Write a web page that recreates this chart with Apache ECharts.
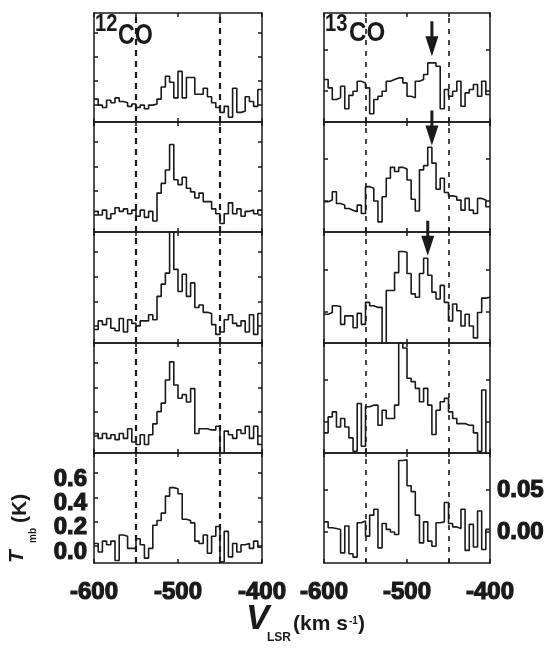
<!DOCTYPE html>
<html>
<head>
<meta charset="utf-8">
<script src="https://cdn.jsdelivr.net/npm/echarts@6/dist/echarts.min.js"></script>
<style>html,body{margin:0;padding:0;background:#fff}#c{width:560px;height:650px}</style>
</head>
<body>
<div id="c"></div>
<script>
// Channel left edges (km/s), 5 km/s channels
const velocityEdges = [-600,-595,-590,-585,-580,-575,-570,-565,-560,-555,
  -550,-545,-540,-535,-530,-525,-520,-515,-510,-505,
  -500,-495,-490,-485,-480,-475,-470,-465,-460,-455,
  -450,-445,-440,-435,-430,-425,-420,-415,-410,-405,-400];

// 12CO spectra (K), top to bottom
const co12_1 = [0.05,0.00,-0.02,0.04,0.02,0.06,0.03,0.02,-0.01,0.01,
  -0.02,0.00,-0.03,0.00,0.01,0.05,0.15,0.24,0.19,0.06,
  0.28,0.06,0.23,0.23,0.09,0.09,0.14,0.07,0.02,-0.02,
  -0.06,-0.01,-0.10,0.14,-0.06,-0.05,0.07,0.03,-0.01,0.13];
const co12_2 = [0.03,0.00,0.04,-0.03,0.01,0.06,0.03,0.05,0.01,0.04,
  -0.01,0.04,-0.02,0.03,-0.05,0.18,0.26,0.37,0.58,0.29,
  0.25,0.31,0.22,0.19,0.14,0.18,0.11,0.11,0.05,0.01,
  -0.07,0.01,0.10,0.01,0.05,-0.01,0.03,0.04,0.01,0.04];
const co12_3 = [-0.03,0.04,0.01,0.06,-0.02,-0.04,0.06,-0.05,0.05,0.02,
  0.00,0.04,0.04,0.09,0.05,0.24,0.34,0.43,0.80,0.46,
  0.28,0.42,0.24,0.35,0.15,0.17,0.11,0.10,0.01,-0.07,
  -0.05,0.05,0.09,0.02,0.00,0.04,-0.05,0.09,-0.07,0.10];
const co12_4 = [0.02,-0.02,0.02,-0.02,0.01,-0.03,0.02,-0.02,0.06,-0.05,
  -0.07,0.01,-0.07,0.01,0.10,0.20,0.27,0.46,0.61,0.42,
  0.31,0.34,0.28,0.39,0.02,0.06,0.06,0.05,0.05,0.08,
  -0.16,0.04,0.01,-0.02,0.05,0.02,0.08,-0.02,0.08,-0.07];
const co12_5 = [0.02,-0.05,0.04,0.01,0.04,-0.12,0.09,0.08,-0.02,-0.02,
  0.06,0.01,-0.10,-0.02,0.17,0.21,0.27,0.41,0.48,0.47,
  0.43,0.22,0.21,0.19,0.04,0.02,0.09,-0.06,0.08,0.16,
  -0.13,0.12,-0.09,0.02,-0.05,0.01,0.02,-0.02,0.04,-0.01];

// 13CO spectra (K), top to bottom
const co13_1 = [0.014,0.004,-0.010,-0.008,0.006,-0.021,-0.005,0.000,0.012,0.010,
  0.004,-0.027,-0.010,-0.006,0.000,0.012,0.014,0.016,0.016,0.010,
  -0.006,-0.008,0.012,0.014,0.020,0.034,0.034,0.030,-0.021,0.002,
  -0.006,0.000,0.012,-0.018,-0.002,0.002,0.008,-0.006,0.012,-0.004];
const co13_2 = [-0.001,0.001,0.011,-0.003,-0.005,-0.009,-0.011,-0.013,-0.005,-0.015,
  0.017,0.015,0.000,-0.025,0.005,0.027,0.040,0.035,0.040,0.038,
  0.025,0.002,-0.012,0.037,0.042,0.064,0.045,0.014,0.027,0.010,
  0.006,0.005,0.001,-0.011,0.003,-0.011,-0.015,0.003,0.001,-0.007];
const co13_3 = [-0.003,-0.001,0.007,0.006,-0.015,-0.005,-0.005,-0.019,-0.002,-0.015,
  0.011,0.007,0.005,0.005,-0.040,0.025,0.025,0.046,0.071,0.070,
  0.045,0.021,0.017,0.045,0.063,0.043,0.023,0.015,0.031,0.011,
  -0.011,0.009,0.001,-0.017,-0.003,-0.017,-0.031,-0.001,0.016,0.017];
const co13_4 = [-0.013,0.006,0.012,-0.006,0.004,-0.006,-0.019,-0.035,0.022,-0.029,
  0.018,0.020,0.020,-0.004,0.014,0.004,0.004,0.020,0.095,0.088,
  0.052,0.048,0.040,0.024,0.040,0.020,-0.015,0.014,0.024,0.028,
  0.012,0.004,-0.002,-0.002,-0.004,-0.004,-0.013,-0.035,0.038,-0.040];
const co13_5 = [0.012,0.005,0.004,0.003,-0.025,0.007,-0.026,-0.030,0.011,0.013,
  -0.005,0.020,0.027,-0.019,0.010,0.003,0.000,-0.003,0.085,0.086,
  0.055,0.048,0.020,-0.013,0.012,-0.011,-0.017,0.011,0.012,0.035,
  0.010,0.006,0.004,0.027,-0.022,0.009,-0.018,0.025,-0.021,0.003];

const dashedVel = [-550, -450];
const leftTicks = [0, 0.2, 0.4, 0.6];
const rightTicks = [0, 0.05];
const leftRange = [-0.14, 0.765];
const rightRange = [-0.037, 0.094];
const arrowVel = [-470, -470, -475];   // 13CO panels 1-3
const arrowTip = [0.042, 0.066, 0.066];

const INK = '#1a1a1a';
const FONT = '"Liberation Sans", Arial, Helvetica, sans-serif';
const panels12 = [co12_1, co12_2, co12_3, co12_4, co12_5];
const panels13 = [co13_1, co13_2, co13_3, co13_4, co13_5];
const rowTops = [13, 122, 232, 343, 453];
const rowBottom = 563;
const colLeft = [94, 324];
const colWidth = [168, 166];

const chart = echarts.init(document.getElementById('c'), null, {renderer: 'canvas'});

const grids = [], xAxes = [], yAxes = [], series = [];
const labelBase = {fontSize: 24, fontWeight: 'bold', color: INK, fontFamily: FONT,
  textBorderColor: INK, textBorderWidth: 1.2};

for (let col = 0; col < 2; col++) {
  for (let row = 0; row < 5; row++) {
    const g = col * 5 + row;
    const top = rowTops[row];
    const bottom = row < 4 ? rowTops[row + 1] : rowBottom;
    grids.push({left: colLeft[col], top: top, width: colWidth[col], height: bottom - top, show: false});
    const isBottom = row === 4;
    ['bottom', 'top'].forEach(pos => {
      xAxes.push({
        type: 'value', gridIndex: g, position: pos, min: -600, max: -400, interval: 50,
        axisLine: {show: true, onZero: false, lineStyle: {color: INK, width: 1.5}},
        axisTick: {show: true, inside: true, length: 4, lineStyle: {color: INK, width: 1.5}},
        axisLabel: Object.assign({}, labelBase, {
          show: isBottom && pos === 'bottom', margin: 17, showMinLabel: true, showMaxLabel: true,
          formatter: v => (Math.round(v) % 100 === 0 ? String(Math.round(v)) : '')
        }),
        splitLine: {show: false}
      });
    });
    const rng = col === 0 ? leftRange : rightRange;
    const ticks = col === 0 ? leftTicks : rightTicks;
    ['left', 'right'].forEach(pos => {
      const showLab = isBottom && col === 1 && pos === 'right';
      yAxes.push({
        type: 'value', gridIndex: g, position: pos, min: rng[0], max: rng[1],
        axisLine: {show: true, onZero: false, lineStyle: {color: INK, width: 1.5}},
        axisTick: {show: true, inside: true, length: 4, customValues: ticks, lineStyle: {color: INK, width: 1.5}},
        axisLabel: Object.assign({}, labelBase, {
          show: showLab, customValues: ticks, margin: 7,
          showMinLabel: true, showMaxLabel: true,
          formatter: v => Number(v).toFixed(2)
        }),
        splitLine: {show: false}
      });
    });
    const vals = col === 0 ? panels12[row] : panels13[row];
    series.push({
      type: 'line', xAxisIndex: 2 * g, yAxisIndex: 2 * g,
      data: velocityEdges.map((v, i) => [v, vals[Math.min(i, vals.length - 1)]]),
      step: 'end', symbol: 'none', clip: true, z: 3,
      lineStyle: {color: INK, width: 1.6},
      markLine: {
        silent: true, symbol: ['none', 'none'], animation: false,
        label: {show: false},
        lineStyle: {color: INK, type: col === 0 ? [6, 5] : [5, 6], width: col === 0 ? 2.2 : 1.6},
        data: dashedVel.map(v => ({xAxis: v}))
      }
    });
  }
}

chart.setOption({
  animation: false,
  backgroundColor: '#ffffff',
  grid: grids, xAxis: xAxes, yAxis: yAxes, series: series
});

// Text and arrows
const graphics = [];
function txt(x, y, text, size, weight, italic, extra, styleExtra) {
  return Object.assign({type: 'text', x: x, y: y, z: 100,
    style: Object.assign({text: text, fontSize: size, fontWeight: weight, fontStyle: italic ? 'italic' : 'normal',
      fontFamily: FONT, fill: INK, align: 'left', verticalAlign: 'top',
      textAlign: 'left', textVerticalAlign: 'top'}, styleExtra || {})}, extra || {});
}
graphics.push(txt(95, 12.5, '12', 24, 'bold', false, {scaleX: 0.84}));
graphics.push(txt(118, 21, 'CO', 29, 'bold', false, {scaleX: 0.8}));
graphics.push(txt(325, 12.5, '13', 24, 'bold', false, {scaleX: 0.84}));
graphics.push(txt(349, 19.5, 'CO', 28, 'bold', false, {scaleX: 0.86}));

// Left tick labels of the bottom 12CO panel, placed through the axis scale
leftTicks.forEach(t => {
  const p = chart.convertToPixel({xAxisIndex: 8, yAxisIndex: 8}, [-600, t]);
  graphics.push({type: 'text', x: p[0] - 7, y: p[1] + 6, z: 100,
    style: {text: t.toFixed(1), fontSize: 24, fontWeight: 'bold', fontFamily: FONT, fill: INK,
      stroke: INK, lineWidth: 1.2, align: 'right', verticalAlign: 'middle',
      textAlign: 'right', textVerticalAlign: 'middle'}});
});

// Axis titles
graphics.push(txt(246, 602, 'V', 35, 'bold', true));
graphics.push(txt(267, 632, 'LSR', 12, 'bold', false));
graphics.push(txt(293, 614, '(km s', 21, 'bold', false));
graphics.push(txt(349, 616.5, '-1', 10, 'bold', false));
graphics.push(txt(358, 614, ')', 21, 'bold', false));

graphics.push({
  type: 'group', x: 25, y: 563, rotation: Math.PI / 2, z: 100,
  children: [
    txt(0, -17.85, 'T', 21, 'bold', true),
    txt(20, 3.5, 'mb', 10, 'bold', false),
    txt(40, -15.3, '(K)', 21, 'bold', false)
  ]
});

arrowVel.forEach((v, i) => {
  const g = 5 + i;
  const p = chart.convertToPixel({xAxisIndex: 2 * g, yAxisIndex: 2 * g}, [v, arrowTip[i]]);
  const x = p[0], y = p[1];
  graphics.push({type: 'rect', z: 110, shape: {x: x - 1.5, y: y - 35, width: 3, height: 17}, style: {fill: INK}});
  graphics.push({type: 'polygon', z: 110, shape: {points: [[x - 6.5, y - 20], [x + 6.5, y - 20], [x, y]]}, style: {fill: INK}});
});

chart.setOption({graphic: graphics});
</script>
</body>
</html>
